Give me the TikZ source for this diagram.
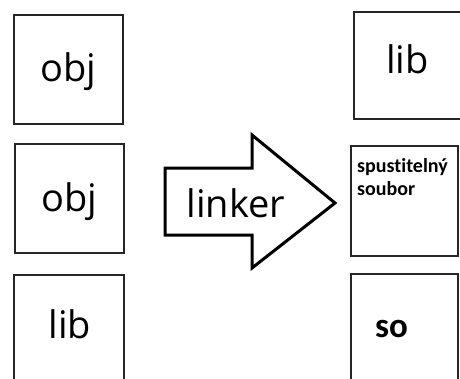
\documentclass[tikz,border=0pt]{standalone}
\usepackage{fontspec}
\setmainfont{Open Sans}
\newfontfamily\boldlabel{Carlito}[BoldFont={Carlito Bold},RawFeature={-liga;-clig;-dlig}]
\begin{document}
\begin{tikzpicture}[x=1pt,y=-1pt,
  filebox/.style={draw=black!85,line width=2pt,inner sep=0pt,
    minimum width=#1,minimum height=109pt},
  filebox/.default=109pt,
  biglabel/.style={anchor=base,inner sep=0pt,font=\fontsize{38}{40}\selectfont},
  smalllabel/.style={anchor=base west,inner sep=0pt,align=left,
    font=\boldlabel\bfseries\fontsize{20}{23}\selectfont},
  solabel/.style={anchor=base west,inner sep=0pt,
    font=\boldlabel\bfseries\fontsize{35}{37}\selectfont},
  bigarrow/.style={draw=black,line width=3pt,line join=miter,fill=white}]
\useasboundingbox (0,0) rectangle (460,378);
\clip (0,0) rectangle (460,378);

% input files on the left
\node[filebox] (in1) at (68.5,69.5) {};
\node[filebox] (in2) at (69.5,198.5) {};
\node[filebox=110pt] (in3) at (69,329.5) {};
\node[biglabel] (in1text) at (68.5,81) {obj};
\node[biglabel] (in2text) at (69.5,211) {obj};
\node[biglabel] (in3text) at (70,338) {lib};

% the linker step
\coordinate (shaftTL) at (165,168);
\coordinate (shaftBL) at (165,235);
\coordinate (tip) at (335,203);
\draw[bigarrow] (shaftTL) -- (252,168) -- (252,135) -- (tip)
  -- (252,268) -- (252,235) -- (shaftBL) -- cycle;
\node[biglabel] (linkertext) at (236,217) {linker};

% outputs on the right
\node[filebox,minimum height=107pt] (out1) at (408,65.5) {};
\node[filebox=107pt,minimum height=110pt] (out2) at (404.5,201) {};
\node[filebox=107pt] (out3) at (404.5,328.5) {};
\node[biglabel] (out1text) at (407.5,73) {lib};
\node[smalllabel] (out2text) at (357,195) {spustitelný\\soubor};
\node[solabel] (out3text) at (375,337) {so};
\end{tikzpicture}
\end{document}
